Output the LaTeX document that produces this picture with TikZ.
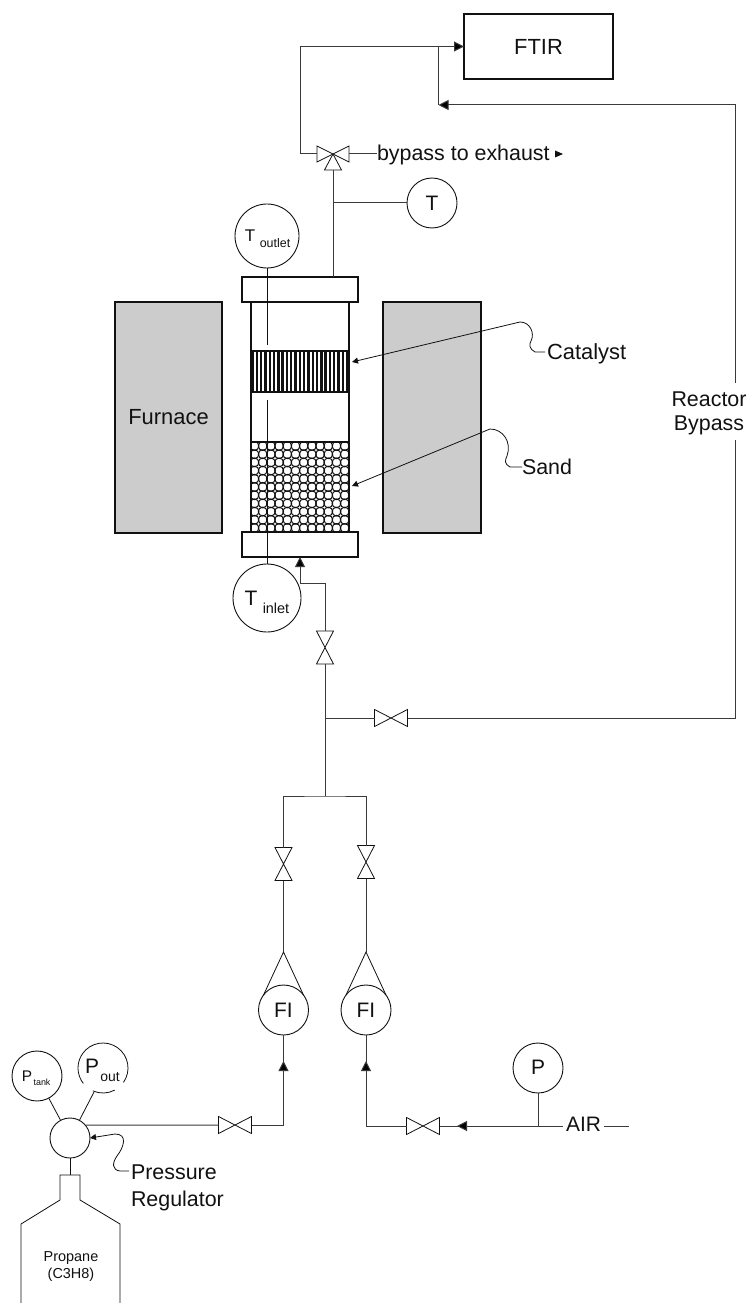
\documentclass[tikz,border=0pt]{standalone}
\usepackage{fontspec}
\setmainfont{Liberation Sans}
\usetikzlibrary{arrows.meta}
\definecolor{ink}{HTML}{111111}
\definecolor{pipe}{HTML}{3A3A3A}
\definecolor{oven}{HTML}{CCCCCC}
\newcommand{\fs}[1]{\fontsize{#1}{#1}\selectfont}
\tikzset{
  x=1bp,y=-1bp,
  every node/.style={inner sep=0pt,outer sep=0pt,text=ink},
  pipeline/.style={draw=pipe,line width=1bp},
  thin line/.style={draw=ink,line width=0.8bp},
  heavy/.style={draw=ink,line width=1.1bp},
  flow/.style={pipeline,-{Triangle[length=10bp,width=10bp,fill=black]}},
  smalltip/.style={thin line,-{Triangle[length=6bp,width=6bp]}},
  gauge/.style={circle,draw=ink,line width=0.9bp,fill=white,minimum size=#1},
  gaugeopen/.style={circle,minimum size=#1},
  valvebox/.style={minimum width=#1,minimum height=17bp,rectangle},
  vvalvebox/.style={minimum width=17bp,minimum height=#1,rectangle},
  label21/.style={font=\fs{21}},
}
\newcommand{\valveH}[2]{%
  \node[valvebox=33bp] (#1) at (#2) {};
  \draw[thin line,fill=white,line join=miter] (#1.north west)--(#1.south west)--(#1.north east)--(#1.south east)--cycle;}
\newcommand{\valveV}[2]{%
  \node[vvalvebox=33bp] (#1) at (#2) {};
  \draw[thin line,fill=white,line join=miter] (#1.north west)--(#1.north east)--(#1.south west)--(#1.south east)--cycle;}
\begin{document}
\begin{tikzpicture}
\useasboundingbox (0,0) rectangle (749,1303);
% furnace
\node[heavy,fill=oven,minimum width=107bp,minimum height=231bp,font=\fs{22}] (furnL) at (168.5,417.5) {Furnace};
\node[heavy,fill=oven,minimum width=98bp,minimum height=231bp] (furnR) at (432,417.5) {};
% reactor
\node[heavy,fill=white,minimum width=98bp,minimum height=255bp] (tube) at (300,417) {};
\begin{scope}
  \clip (251,442) rectangle (349,532);
  \foreach \r in {0,...,11}{\foreach \c in {0,...,12}{
    \draw[ink,line width=1bp] (254.5+\c*8.2,446+\r*8.2) circle[radius=4.4bp];
  }}
\end{scope}
\node[heavy,minimum width=98bp,minimum height=90bp] (sand) at (300,487) {};
\foreach \c in {0,...,22}{
  \draw[ink,line width=2.4bp] (252.5+\c*4.3,351) -- (252.5+\c*4.3,392);
}
\node[heavy,minimum width=98bp,minimum height=41bp] (cat) at (300,371.5) {};
\node[heavy,fill=white,minimum width=116bp,minimum height=25bp] (topfl) at (300,289.5) {};
\node[heavy,fill=white,minimum width=116bp,minimum height=25bp] (botfl) at (300,544.5) {};
% thermocouples
\node[gauge=64bp] (tout) at (267,236) {};
\node[gauge=68bp] (tin) at (267,598) {};
\node[font=\fs{17}] (toutT) at (250,236) {T};
\node[font=\fs{12.5}] (toutS) at (275,243.5) {outlet};
\node[label21] (tinT) at (251,598) {T};
\node[font=\fs{14.5}] (tinS) at (276,608) {inlet};
\coordinate (probeA) at (267,345);
\coordinate (probeB) at (267,400);
\draw[pipeline,draw=ink] (tout) -- (probeA);
\draw[pipeline,draw=ink] (tin) -- (probeB);
% FTIR and top valve
\node[heavy,minimum width=149bp,minimum height=65bp,font=\fs{22}] (ftir) at (538.5,46.5) {FTIR};
\node[minimum width=32bp,minimum height=16bp] (vt) at (333,154) {};
\draw[thin line,fill=white,line join=miter] (vt.north west)--(vt.south west)--(vt.north east)--(vt.south east)--cycle;
\coordinate (vtb) at (333,170);
\draw[thin line,fill=white,line join=miter] (vt.center) -- (341.5,170) -- (324.5,170) -- cycle;
\coordinate (vtl) at (300,154);
\coordinate (j1) at (438.5,46.5);
\coordinate (j2) at (438.5,105);
\coordinate (rb1) at (735,105);
\coordinate (rb2) at (735,383);
\coordinate (rb3) at (735,440);
\draw[flow] (vt.west) -- (vtl) |- (ftir.west);
\draw[pipeline] (j1) -- (j2);
\draw[flow] (rb2) -- (rb1) -- (j2);
\node[font=\fs{21.5},anchor=west] (byp) at (377,155) {bypass to exhaust};
\draw[pipeline] (vt.east) -- (byp.west |- vt.east);
\coordinate (bypA) at (555,154);
\fill[ink] (555,150.5) -- (563,154) -- (555,157.5) -- cycle;
\node[gauge=50bp,label21] (tgauge) at (432,203) {T};
\coordinate (jt) at (333,203);
\draw[pipeline] (jt) -- (tgauge);
\draw[pipeline] (topfl.north -| vtb) -- (vtb);
% catalyst / sand labels
\node[font=\fs{22},anchor=west] (catl) at (547,354) {Catalyst};
\node[font=\fs{21.5},anchor=west] (sandl) at (522,467) {Sand};
\coordinate (cats) at (545,352);
\draw[smalltip] (cats) -- (535,352) .. controls (529,349) and (529,344) .. (531,341) .. controls (535,333) and (530,322) .. (520,322) -- (352,362);
\draw[smalltip] (sandl.west) -- (510,467) .. controls (504,464) and (505,460) .. (507,456) .. controls (512,442) and (503,429) .. (490,429) -- (352,486);
% reactor inlet
\valveV{vin}{325,647.5}
\coordinate (inA) at (325,583);
\coordinate (inB) at (300,583);
\draw[flow] (vin.north) -- (inA) -- (inB) -- (botfl.south -| inB);
\coordinate (j3) at (325,718);
\coordinate (j4) at (325,796);
\draw[pipeline] (vin.south) -- (j4);
\valveH{vby}{391,718}
\draw[pipeline] (j3) -- (vby.west);
\coordinate (rb4) at (735,718);
\draw[pipeline] (vby.east) -- (rb4) -- (rb3);
\node[font=\fs{21.5},align=center] (rbl) at (709,414) {\strut Reactor\\[3bp]\strut Bypass};
% manifold
\valveV{vl}{283.5,864}
\valveV{vr}{366,862}
\draw[pipeline] (vl.north) |- (j4) -| (vr.north);
\coordinate (apL) at (283.5,952);
\coordinate (apR) at (366,952);
\draw[pipeline] (vl.south) -- (apL);
\draw[pipeline] (vr.south) -- (apR);
\node[gauge=50bp,label21] (fil) at (283.5,1010) {FI};
\node[gauge=50bp,label21] (fir) at (366,1010) {FI};
\draw[thin line] (fil.143) -- (apL) -- (fil.37);
\draw[thin line] (fir.143) -- (apR) -- (fir.37);
% regulator and tank
\node[gauge=40bp] (reg) at (70,1138) {};
\node[gauge=50bp] (ptank) at (37,1076) {};
\node[gaugeopen=50bp] (pout) at (103,1068) {};
\draw[thin line] (pout.246) arc[start angle=246,end angle=298,radius=25bp];
\draw[thin line] (pout.325) arc[start angle=325,end angle=578,radius=25bp];
\node[font=\fs{15.5}] (ptP) at (27,1076) {P};
\node[font=\fs{9}] (ptS) at (42,1082) {tank};
\node[label21] (poP) at (92,1066) {P};
\node[font=\fs{14}] (poS) at (110,1077) {out};
\draw[thin line] (ptank.-62) -- (reg.118);
\coordinate (poutfoot) at (94,1092);
\draw[thin line] (poutfoot) -- (reg.62);
\valveH{vprop}{235,1125}
\draw[pipeline] (reg.40) -- (vprop.west);
\coordinate (cor1) at (283.5,1125);
\coordinate (tip1) at (283.5,1061);
\draw[pipeline] (vprop.east) -- (cor1) -- (fil.south);
\draw[flow] (cor1) -- (tip1);
% bottle
\coordinate (neck) at (70,1175);
\draw[thin line] (reg) -- (neck);
\draw[thin line,line join=miter,fill=white] (21,1304) -- (21,1224) -- (60,1200) -- (60,1175) -- (80,1175) -- (80,1200) -- (120,1224) -- (120,1304);
\node[font=\fs{14.5},align=center] (prop) at (71,1267) {\strut Propane\\[1.5bp]\strut (C3H8)};
\node[font=\fs{21.5},align=left,anchor=west] (prl) at (131,1188.5) {\strut Pressure\\[4bp]\strut Regulator};
\coordinate (prs) at (129,1171);
\draw[smalltip] (prs) -- (120,1171) .. controls (112,1170) and (112,1163) .. (117,1156) .. controls (124,1147) and (128,1134) .. (115,1134) -- (90,1138);
% air
\node[gauge=50bp] (pair) at (538,1068) {};
\node[label21] (pairt) at (538,1067) {P};
\node[font=\fs{21}] (air) at (583.5,1124) {AIR};
\coordinate (airend) at (629,1126);
\coordinate (airj) at (538,1126);
\coordinate (airR) at (604,1126);
\coordinate (airL) at (563,1126);
\coordinate (tip2) at (457,1126);
\draw[pipeline] (airR) -- (airend);
\draw[pipeline] (pair) -- (airj);
\valveH{vair}{423,1126}
\draw[pipeline] (airL) -- (vair.east);
\draw[flow] (airj) -- (tip2);
\coordinate (cor2) at (366,1126);
\coordinate (tip3) at (366,1061);
\draw[pipeline] (vair.west) -- (cor2) -- (fir.south);
\draw[flow] (cor2) -- (tip3);
\end{tikzpicture}
\end{document}
